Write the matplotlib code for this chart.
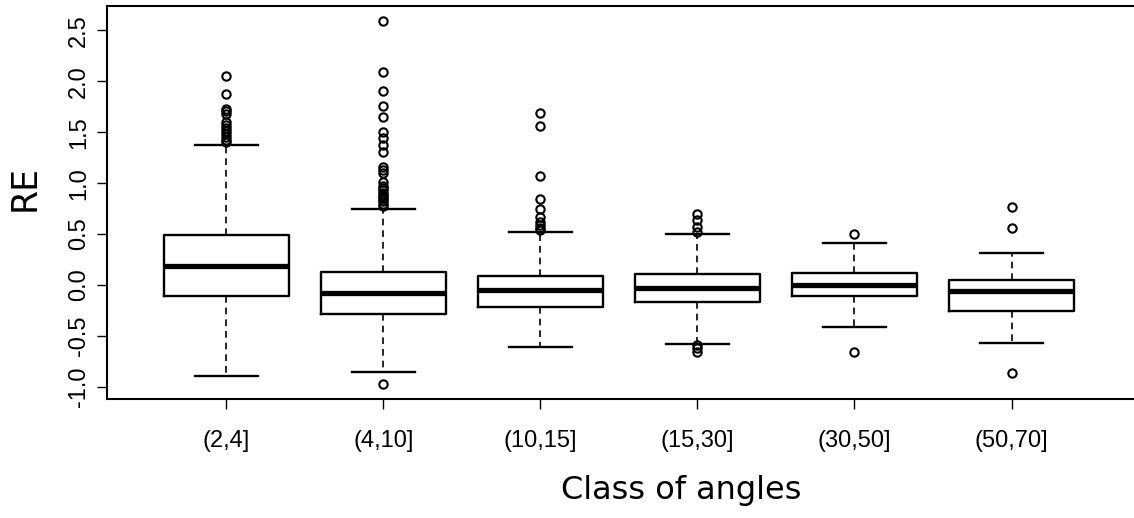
import matplotlib
matplotlib.use("Agg")
import matplotlib.pyplot as plt

categories = ["(2,4]", "(4,10]", "(10,15]", "(15,30]", "(30,50]", "(50,70]"]
q1 = [-0.105, -0.285, -0.213, -0.170, -0.108, -0.253]
medians = [0.187, -0.082, -0.049, -0.030, 0.003, -0.059]
q3 = [0.490, 0.130, 0.089, 0.111, 0.121, 0.046]
whisker_low = [-0.890, -0.850, -0.613, -0.584, -0.413, -0.574]
whisker_high = [1.370, 0.750, 0.525, 0.502, 0.416, 0.312]
outliers = [
    [2.05, 1.88, 1.73, 1.71, 1.68, 1.60, 1.57, 1.54, 1.51, 1.48, 1.45, 1.42, 1.40],
    [2.595, 2.09, 1.91, 1.755, 1.65, 1.50, 1.44, 1.37, 1.31, 1.16, 1.13, 1.10,
     1.01, 0.97, 0.95, 0.93, 0.90, 0.88, 0.86, 0.84, 0.82, 0.80, 0.78, -0.977],
    [1.69, 1.558, 1.066, 0.843, 0.745, 0.672, 0.623, 0.59, 0.558, 0.535],
    [0.699, 0.64, 0.574, 0.525, -0.59, -0.623, -0.656],
    [0.502, -0.66],
    [0.761, 0.558, -0.869],
]
y_ticks = [-1.0, -0.5, 0.0, 0.5, 1.0, 1.5, 2.0, 2.5]

stats = []
for i, lab in enumerate(categories):
    stats.append(dict(label=lab, q1=q1[i], med=medians[i], q3=q3[i],
                      whislo=whisker_low[i], whishi=whisker_high[i],
                      fliers=outliers[i]))

fig = plt.figure(figsize=(11.34, 5.18), dpi=100)
ax = fig.add_axes([107/1134, 1-399/518, 1-107/1134, (399-6)/518])

positions = list(range(1, len(categories) + 1))
ax.bxp(stats, positions=positions, widths=0.8, capwidths=0.4,
       boxprops=dict(color="black", linewidth=1.7),
       medianprops=dict(color="black", linewidth=3.8),
       whiskerprops=dict(color="black", linewidth=1.2, linestyle=(0, (4, 3))),
       capprops=dict(color="black", linewidth=1.7),
       flierprops=dict(marker="o", markerfacecolor="none", markeredgecolor="black",
                       markersize=6, markeredgewidth=1.5))

ax.set_xlim(0.24, 6.78)
ax.set_ylim(-1.12, 2.74)
ax.set_yticks(y_ticks)
ax.set_yticklabels([f"{v:.1f}" for v in y_ticks], rotation=90, va="center",
                   fontsize=17, family="Liberation Sans")
ax.set_xticks(positions)
ax.set_xticklabels(categories, fontsize=17, family="Liberation Sans")
ax.tick_params(axis="both", direction="out", length=7, width=1, color="black")
ax.tick_params(axis="x", pad=15)
ax.tick_params(axis="y", pad=5)

ax.spines["right"].set_visible(False)
for s in ["left", "bottom", "top"]:
    ax.spines[s].set_linewidth(1.5)
    ax.spines[s].set_color("black")

ax.set_ylabel("RE", fontsize=25, family="DejaVu Sans", va="center", ha="center")
ax.yaxis.set_label_coords((25 - 107) / 1027, (399 - 188) / 393)
ax.set_xlabel("Class of angles", fontsize=23, family="DejaVu Sans", va="center", ha="center")
ax.xaxis.set_label_coords((681 - 107) / 1027, (399 - 490) / 393)

fig.savefig("out.png", dpi=100)
